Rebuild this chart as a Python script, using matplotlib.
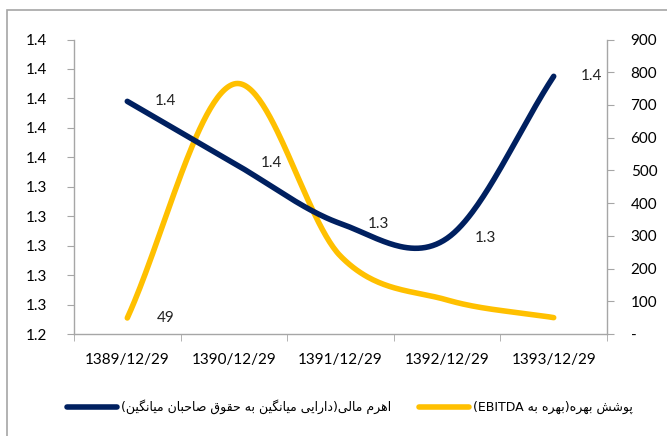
import re
import numpy as np
import matplotlib
matplotlib.use("Agg")
import matplotlib.pyplot as plt
from matplotlib.lines import Line2D
from matplotlib.patches import Rectangle

categories = ["1389/12/29", "1390/12/29", "1391/12/29", "1392/12/29", "1393/12/29"]
leverage = [1.398, 1.356, 1.315, 1.305, 1.415]
coverage = [49, 764, 238, 104, 50]
leverage_label = "اهرم مالی(دارایی میانگین به حقوق صاحبان میانگین)"
coverage_label = "پوشش بهره(بهره به EBITDA)"

navy = "#002060"
yellow = "#FFC000"
gray = "#A6A6A6"

# simple Persian shaping -> presentation forms, then visual order
FORMS = {
    'ا': ('\uFE8D', '\uFE8E', None, None),
    'ب': ('\uFE8F', '\uFE90', '\uFE91', '\uFE92'),
    'پ': ('\uFB56', '\uFB57', '\uFB58', '\uFB59'),
    'ح': ('\uFEA1', '\uFEA2', '\uFEA3', '\uFEA4'),
    'د': ('\uFEA9', '\uFEAA', None, None),
    'ر': ('\uFEAD', '\uFEAE', None, None),
    'ش': ('\uFEB5', '\uFEB6', '\uFEB7', '\uFEB8'),
    'ص': ('\uFEB9', '\uFEBA', '\uFEBB', '\uFEBC'),
    'ق': ('\uFED5', '\uFED6', '\uFED7', '\uFED8'),
    'ل': ('\uFEDD', '\uFEDE', '\uFEDF', '\uFEE0'),
    'م': ('\uFEE1', '\uFEE2', '\uFEE3', '\uFEE4'),
    'ن': ('\uFEE5', '\uFEE6', '\uFEE7', '\uFEE8'),
    'ه': ('\uFEE9', '\uFEEA', '\uFEEB', '\uFEEC'),
    'و': ('\uFEED', '\uFEEE', None, None),
    'ی': ('\uFBFC', '\uFBFD', '\uFBFE', '\uFBFF'),
    'گ': ('\uFB92', '\uFB93', '\uFB94', '\uFB95'),
}


def rtl(text):
    out = []
    for i, ch in enumerate(text):
        if ch not in FORMS:
            out.append(ch)
            continue
        prev = text[i - 1] if i > 0 else ''
        nxt = text[i + 1] if i + 1 < len(text) else ''
        p = prev in FORMS and FORMS[prev][2] is not None
        n = FORMS[ch][2] is not None and nxt in FORMS
        f = FORMS[ch]
        if p and n:
            out.append(f[3])
        elif n:
            out.append(f[2])
        elif p:
            out.append(f[1])
        else:
            out.append(f[0])
    toks = re.findall(r'[A-Za-z0-9]+|.', ''.join(out))
    mirror = {'(': ')', ')': '('}
    return ''.join(mirror.get(t, t) for t in reversed(toks))


def smooth(y, n=60):
    y = np.asarray(y, float)
    m = np.zeros_like(y)
    m[1:-1] = (y[2:] - y[:-2]) / 2
    m[0] = y[1] - y[0]
    m[-1] = y[-1] - y[-2]
    xs, ys = [], []
    for i in range(len(y) - 1):
        t = np.linspace(0, 1, n)
        h00 = 2 * t**3 - 3 * t**2 + 1
        h10 = t**3 - 2 * t**2 + t
        h01 = -2 * t**3 + 3 * t**2
        h11 = t**3 - t**2
        xs.append(i + t)
        ys.append(h00 * y[i] + h10 * m[i] + h01 * y[i + 1] + h11 * m[i + 1])
    return np.concatenate(xs), np.concatenate(ys)


plt.rcParams['font.family'] = ['Lato', 'DejaVu Sans']

fig = plt.figure(figsize=(6.67, 4.36), dpi=100)
fig.patches.append(Rectangle((7 / 667, -0.1), 1.2, 1 - 10 / 436 + 0.1, transform=fig.transFigure,
                             fill=False, edgecolor=gray, linewidth=1.2))
ax = fig.add_axes([74 / 667, 1 - 334 / 436, 533 / 667, 294.5 / 436])
ax2 = ax.twinx()

x = np.arange(len(categories))
sx, sy = smooth(leverage)
ax.plot(sx, sy, color=navy, linewidth=4, solid_capstyle='round', zorder=3)
sx2, sy2 = smooth(coverage)
ax2.plot(sx2, sy2, color=yellow, linewidth=4, solid_capstyle='round', zorder=2)
ax.set_zorder(ax2.get_zorder() + 1)
ax.patch.set_visible(False)

ax.set_xlim(-0.5, len(categories) - 0.5)
ax.set_ylim(1.24, 1.44)
ax2.set_ylim(0, 900)

yt = np.linspace(1.24, 1.44, 11)
ax.set_yticks(yt)
ax.set_yticklabels(["%.1f" % v for v in yt])
rt = np.arange(0, 1000, 100)
ax2.set_yticks(rt)
ax2.set_yticklabels(["-" if v == 0 else str(v) for v in rt])

ax.set_xticks(x)
ax.set_xticklabels(categories)
ax.set_xticks(np.arange(len(categories) + 1) - 0.5, minor=True)
ax.tick_params(axis='x', which='major', length=0, pad=14, labelsize=11)
ax.tick_params(axis='x', which='minor', length=5, color=gray)
ax.tick_params(axis='y', length=5, color=gray, labelsize=11, pad=14)
ax2.tick_params(axis='y', length=5, color=gray, labelsize=11, pad=12)

for a in (ax, ax2):
    for s in a.spines.values():
        s.set_visible(False)
ax.spines['left'].set_visible(True)
ax.spines['bottom'].set_visible(True)
ax2.spines['right'].set_visible(True)
for s in (ax.spines['left'], ax.spines['bottom'], ax2.spines['right']):
    s.set_color(gray)
    s.set_linewidth(1)

for i, v in enumerate(leverage):
    ax.annotate("%.1f" % v, (i, v), xytext=(38, 0), textcoords='offset pixels',
                ha='center', va='center', fontsize=11, color='#222222')
ax2.annotate(str(coverage[0]), (0, coverage[0]), xytext=(38, 0), textcoords='offset pixels',
             ha='center', va='center', fontsize=11, color='#222222')

handles = [Line2D([], [], color=navy, linewidth=4, solid_capstyle='round'),
           Line2D([], [], color=yellow, linewidth=4, solid_capstyle='round')]
fig.legend(handles, [rtl(leverage_label), rtl(coverage_label)], ncol=2, loc='center',
           bbox_to_anchor=(350 / 667, 1 - 407 / 436), frameon=False,
           handlelength=4, columnspacing=2.2, handletextpad=0.3,
           prop={'family': ['DejaVu Sans'], 'size': 9})

fig.savefig("out.png", dpi=100)
